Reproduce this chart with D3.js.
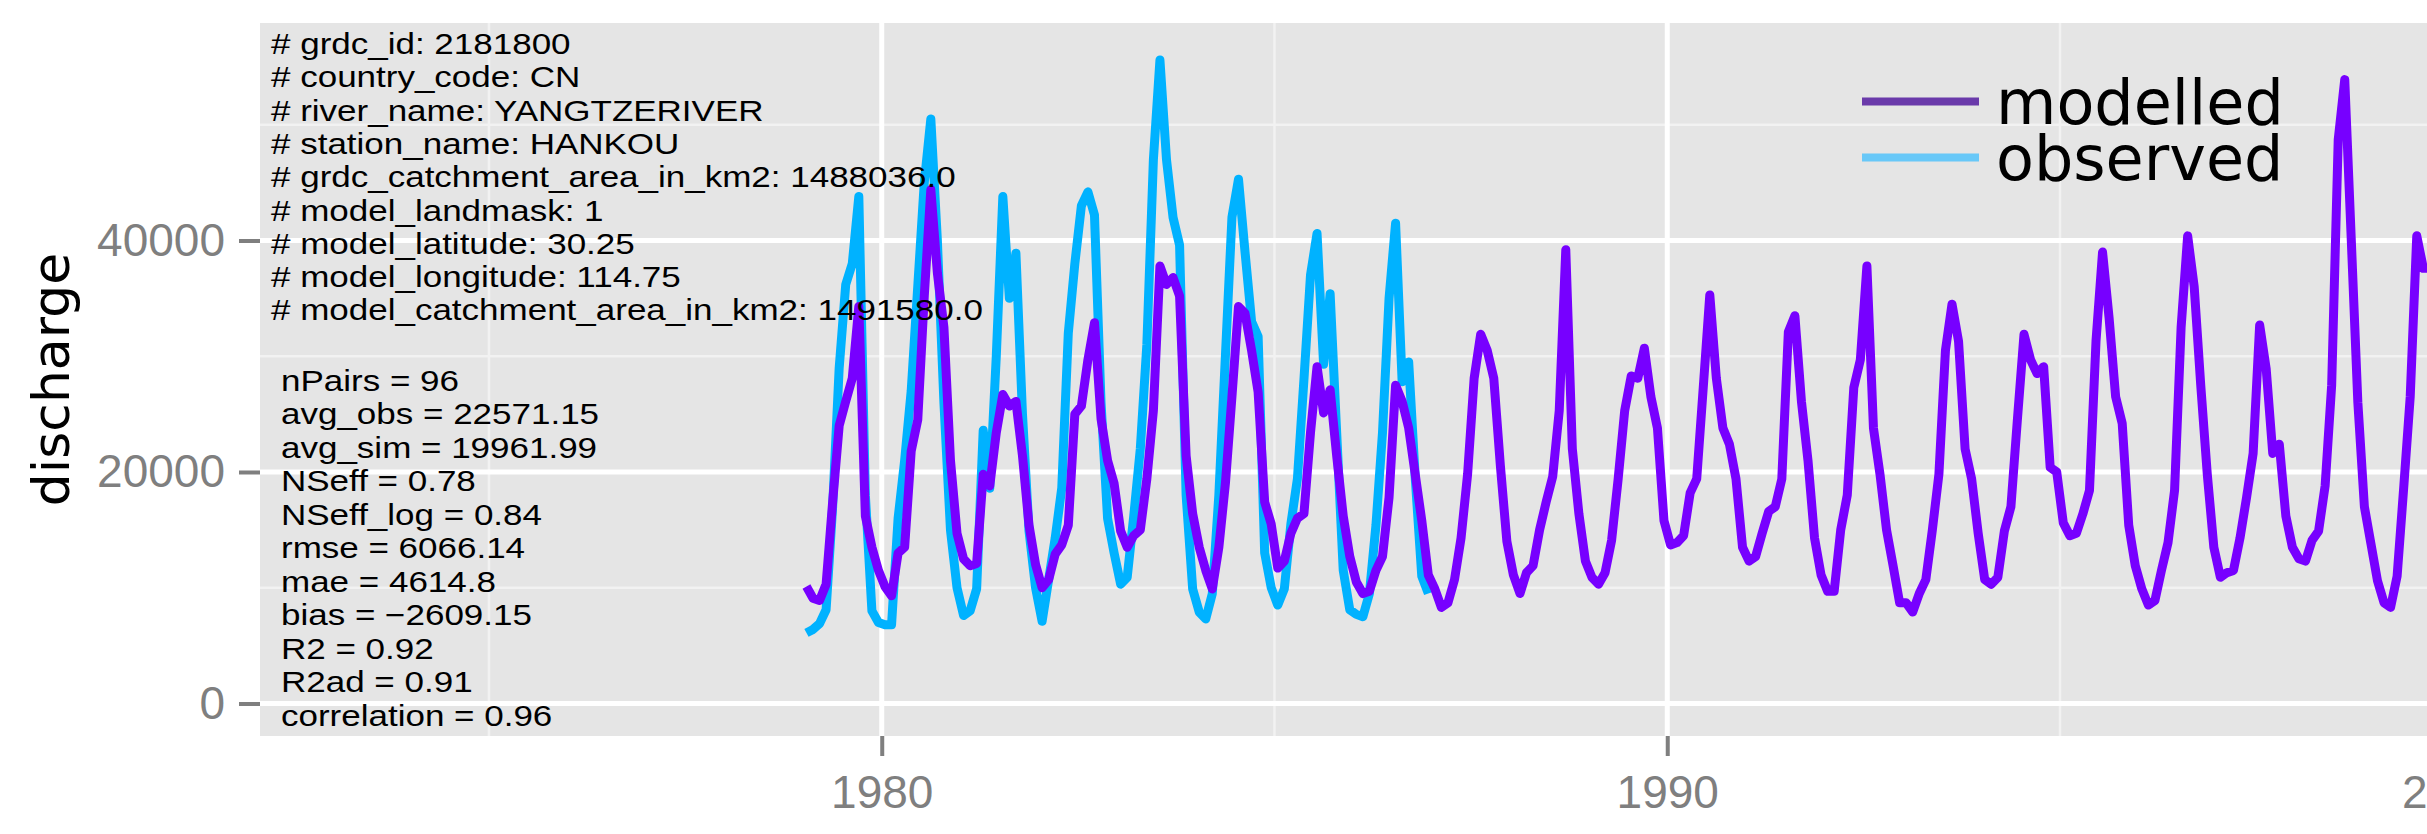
<!DOCTYPE html>
<html>
<head>
<meta charset="utf-8">
<script src="https://cdn.jsdelivr.net/npm/d3@7"></script>
<style>
  html, body { margin: 0; padding: 0; background: #fff; overflow: hidden; }
  .axis text { font-family: "Liberation Sans", Arial, sans-serif; fill: #7f7f7f; }
  .axis line { stroke: #7f7f7f; }
  .note { font-family: "Liberation Sans", Arial, sans-serif; font-size: 29px; fill: #000; }
</style>
</head>
<body>
<div id="chart"></div>
<script>
// monthly discharge, first value = Jan 1979
var startYear = 1979;

var observed = [
  6100, 6400, 6900, 8100, 17000, 29000, 36200, 38000, 43800, 18000, 8000, 7000,
  6800, 6800, 16000, 21000, 27000, 36000, 45000, 50500, 40000, 26000, 15000, 10000,
  7600, 8000, 9900, 23600, 18600, 30000, 43800, 35000, 38900, 25000, 14900, 10000,
  7100, 10700, 14300, 18600, 32000, 38000, 43000, 44200, 42200, 26000, 16000, 13000,
  10300, 10900, 16200, 22000, 31000, 47000, 55600, 47000, 42000, 39600, 18000, 9900,
  7900, 7300, 9500, 18000, 30000, 42000, 45300, 39000, 33000, 31700, 13000, 10000,
  8500, 9900, 15500, 19400, 28000, 37000, 40600, 29300, 35400, 23400, 11500, 8100,
  7700, 7500, 9500, 15400, 23400, 35000, 41500, 27800, 29500, 19500, 11000, 9500
];

var modelled = [
  10100, 9100, 8900, 10300, 17400, 24000, 26100, 28100, 34300, 16200, 13500, 11500,
  10100, 9300, 13000, 13500, 21800, 24500, 35200, 44400, 37200, 32500, 21000, 14700,
  12500, 11900, 12100, 19800, 18800, 23400, 26700, 25700, 26100, 21400, 15400, 12000,
  10000, 10700, 12900, 13700, 15400, 25000, 25700, 29700, 32900, 24600, 21000, 19000,
  14900, 13500, 14500, 15000, 19400, 25300, 37800, 36200, 36800, 35200, 21400, 16400,
  13500, 11500, 9900, 13500, 19000, 26500, 34300, 33700, 30500, 26900, 17400, 15500,
  11700, 12300, 14700, 16000, 16400, 23400, 29100, 25100, 27100, 21400, 16200, 12700,
  10500, 9500, 9700, 11500, 12700, 17800, 27500, 26100, 23800, 19800, 15800, 11100,
  9900, 8300, 8700, 10700, 14300, 19800, 28100, 31900, 30500, 28100, 20600, 14000,
  11100, 9500, 11300, 11900, 15000, 17400, 19600, 25300, 39200, 22000, 16400, 12300,
  10900, 10300, 11300, 14100, 19400, 25300, 28300, 28100, 30700, 26500, 23800, 15800,
  13700, 13900, 14500, 18200, 19400, 27300, 35300, 28100, 23800, 22400, 19400, 13500,
  12300, 12700, 14700, 16600, 17000, 19400, 32100, 33500, 26100, 21000, 14300, 11100,
  9700, 9700, 15000, 18000, 27300, 29700, 37800, 23800, 19800, 15000, 11900, 8700,
  8700, 7900, 9500, 10700, 15000, 19800, 30500, 34500, 31300, 22000, 19400, 14700,
  10700, 10300, 10900, 14900, 17000, 24600, 31900, 29700, 28500, 29100, 20400, 20000,
  15600, 14500, 14700, 16400, 18400, 31300, 39000, 33300, 26500, 24200, 15400, 11900,
  9900, 8500, 8900, 11500, 13900, 18400, 32500, 40400, 36000, 27500, 19800, 13500,
  10900, 11300, 11500, 14300, 17800, 21600, 32700, 28900, 21600, 22400, 16200, 13500,
  12500, 12300, 14100, 14900, 18800, 27500, 48700, 53900, 40000, 26000, 17000, 13800,
  10600, 8700, 8300, 11000, 18600, 26500, 40400, 37600, 37600
];

var yTicks = [0, 20000, 40000];
var yMinor = [10000, 30000, 50000];
var xTicks = [1980, 1990, 2000];
var xMinor = [1975, 1985, 1995];

var metaLines = [
  "# grdc_id: 2181800",
  "# country_code: CN",
  "# river_name: YANGTZERIVER",
  "# station_name: HANKOU",
  "# grdc_catchment_area_in_km2: 1488036.0",
  "# model_landmask: 1",
  "# model_latitude: 30.25",
  "# model_longitude: 114.75",
  "# model_catchment_area_in_km2: 1491580.0"
];

var statLines = [
  "nPairs = 96",
  "avg_obs = 22571.15",
  "avg_sim = 19961.99",
  "NSeff = 0.78",
  "NSeff_log = 0.84",
  "rmse = 6066.14",
  "mae = 4614.8",
  "bias = \u22122609.15",
  "R2 = 0.92",
  "R2ad = 0.91",
  "correlation = 0.96"
];

var seriesNames = ["modelled", "observed"];
var seriesColors = ["#7700ff", "#00b2ff"];
var legendColors = ["#6a3aaa", "#68c8f8"];

/** canvas **/
var W = 2427, H = 834;
var margin = {top: 23, right: 0, bottom: 98, left: 260},
    width = W - margin.left - margin.right,
    height = H - margin.top - margin.bottom;

var x = d3.scaleLinear().domain([1972.085, 1999.672]).range([0, width]);
var y = d3.scaleLinear().domain([-2808, 58790]).range([height, 0]);

var svg = d3.select("#chart").append("svg")
    .attr("width", W)
    .attr("height", H)
    .style("display", "block");

var g = svg.append("g")
    .attr("transform", "translate(" + margin.left + "," + margin.top + ")");

svg.append("defs").append("clipPath").attr("id", "panel")
    .append("rect").attr("width", width).attr("height", height);

// panel + grid
g.append("rect")
    .attr("width", width)
    .attr("height", height)
    .attr("fill", "#e5e5e5");

g.selectAll(".ymin").data(yMinor).enter().append("line")
    .attr("x1", 0).attr("x2", width)
    .attr("y1", function(d) { return y(d); })
    .attr("y2", function(d) { return y(d); })
    .attr("stroke", "#f2f2f2").attr("stroke-width", 2.5);

g.selectAll(".xmin").data(xMinor).enter().append("line")
    .attr("y1", 0).attr("y2", height)
    .attr("x1", function(d) { return x(d); })
    .attr("x2", function(d) { return x(d); })
    .attr("stroke", "#f2f2f2").attr("stroke-width", 2.5);

g.selectAll(".ymaj").data(yTicks).enter().append("line")
    .attr("x1", 0).attr("x2", width)
    .attr("y1", function(d) { return y(d); })
    .attr("y2", function(d) { return y(d); })
    .attr("stroke", "#fff").attr("stroke-width", 5);

g.selectAll(".xmaj").data(xTicks).enter().append("line")
    .attr("y1", 0).attr("y2", height)
    .attr("x1", function(d) { return x(d); })
    .attr("x2", function(d) { return x(d); })
    .attr("stroke", "#fff").attr("stroke-width", 5);

// series lines
function monthYear(i) { return startYear + (i + 0.5) / 12; }

var line = d3.line()
    .x(function(d, i) { return x(monthYear(i)); })
    .y(function(d) { return y(d); });

var plot = g.append("g").attr("clip-path", "url(#panel)");

plot.append("path")
    .datum(observed)
    .attr("d", line)
    .attr("fill", "none")
    .attr("stroke", seriesColors[1])
    .attr("stroke-width", 9)
    .attr("stroke-linejoin", "round");

plot.append("path")
    .datum(modelled)
    .attr("d", line)
    .attr("fill", "none")
    .attr("stroke", seriesColors[0])
    .attr("stroke-width", 9)
    .attr("stroke-linejoin", "round");

// axes
var yAxis = d3.axisLeft(y)
    .tickValues(yTicks)
    .tickFormat(d3.format("d"))
    .tickSize(21)
    .tickPadding(14);

var xAxis = d3.axisBottom(x)
    .tickValues(xTicks)
    .tickFormat(d3.format("d"))
    .tickSize(20)
    .tickPadding(19);

g.append("g").attr("class", "axis").call(yAxis)
    .call(function(a) { a.select(".domain").remove(); })
    .selectAll("text").style("font-size", "46px");

g.append("g").attr("class", "axis")
    .attr("transform", "translate(0," + height + ")")
    .call(xAxis)
    .call(function(a) { a.select(".domain").remove(); })
    .selectAll("text").style("font-size", "46px");

svg.selectAll(".axis line").attr("stroke-width", 4);

svg.append("text")
    .attr("transform", "translate(69," + (margin.top + height / 2) + ") rotate(-90)")
    .attr("text-anchor", "middle")
    .style("font-family", "'DejaVu Sans', sans-serif")
    .style("font-size", "52px")
    .text("discharge");

// annotations (text in the source is wide for its height)
svg.selectAll(".meta").data(metaLines).enter().append("text")
    .attr("class", "note")
    .attr("transform", function(d, i) {
      return "translate(271," + (54 + i * 33.3) + ") scale(1.207,1)";
    })
    .text(function(d) { return d; });

svg.selectAll(".stat").data(statLines).enter().append("text")
    .attr("class", "note")
    .attr("transform", function(d, i) {
      return "translate(281," + (390.5 + i * 33.5) + ") scale(1.207,1)";
    })
    .text(function(d) { return d; });

// legend
var legend = svg.selectAll(".legend").data(seriesNames).enter().append("g")
    .attr("transform", function(d, i) { return "translate(1862," + (101.5 + i * 56) + ")"; });

legend.append("line")
    .attr("x1", 0).attr("x2", 117)
    .attr("stroke", function(d, i) { return legendColors[i]; })
    .attr("stroke-width", 8);

legend.append("text")
    .attr("x", 134)
    .attr("y", 22)
    .style("font-family", "'DejaVu Sans', sans-serif")
    .style("font-size", "62px")
    .text(function(d) { return d; });
</script>
</body>
</html>
